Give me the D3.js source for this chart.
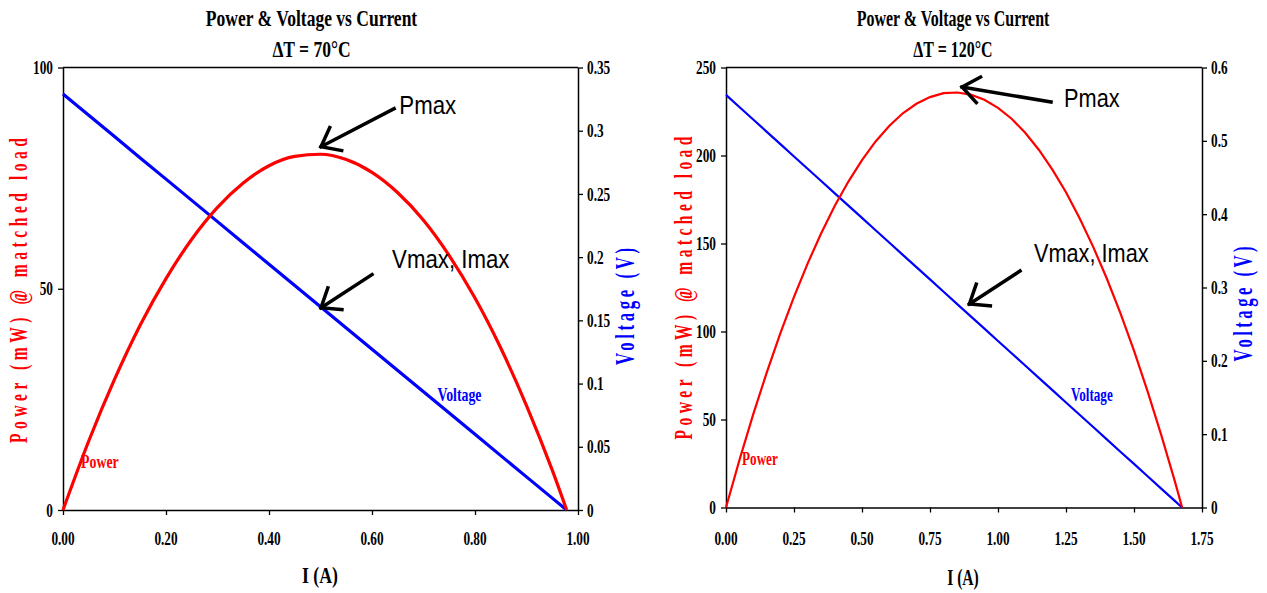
<!DOCTYPE html>
<html><head><meta charset="utf-8">
<script src="https://cdn.jsdelivr.net/npm/d3@7"></script>
<style>body{margin:0;background:#fff;} svg{display:block}</style>
</head><body>
<svg id="c" width="1267" height="593"></svg>
<script>
// ---------- Chart A : ΔT = 70°C ----------
const currentA = [0, 0.05, 0.10, 0.15, 0.20, 0.25, 0.30, 0.35, 0.40, 0.45, 0.50, 0.55, 0.60, 0.65, 0.70, 0.75, 0.80, 0.85, 0.90, 0.95, 0.978];
const powerA   = [0, 15.6, 29.5, 41.8, 52.3, 61.2, 68.4, 73.9, 77.8, 79.9, 80.4, 79.2, 76.3, 71.7, 65.5, 57.5, 47.9, 36.6, 23.6, 9.0, 0];
const voltageA = [0.3290, 0.3122, 0.2954, 0.2785, 0.2617, 0.2449, 0.2281, 0.2112, 0.1944, 0.1776, 0.1608, 0.1440, 0.1271, 0.1103, 0.0935, 0.0767, 0.0599, 0.0430, 0.0262, 0.0094, 0];
const xTicksA = [0, 0.2, 0.4, 0.6, 0.8, 1.0];
const xLabelsA = ["0.00", "0.20", "0.40", "0.60", "0.80", "1.00"];
const pTicksA = [0, 50, 100];
const pLabelsA = ["0", "50", "100"];
const vTicksA = [0, 0.05, 0.1, 0.15, 0.2, 0.25, 0.3, 0.35];
const vLabelsA = ["0", "0.05", "0.1", "0.15", "0.2", "0.25", "0.3", "0.35"];

// ---------- Chart B : ΔT = 120°C ----------
const currentB = [0, 0.05, 0.10, 0.15, 0.20, 0.25, 0.30, 0.35, 0.40, 0.45, 0.50, 0.55, 0.60, 0.65, 0.70, 0.75, 0.80, 0.85, 0.90, 0.95, 1.00, 1.05, 1.10, 1.15, 1.20, 1.25, 1.30, 1.35, 1.40, 1.45, 1.50, 1.55, 1.60, 1.65, 1.677];
const powerB   = [0, 27.3, 52.9, 76.8, 99.1, 119.7, 138.6, 155.8, 171.4, 185.2, 197.4, 208.0, 216.8, 224.0, 229.4, 233.2, 235.4, 235.8, 234.6, 231.7, 227.1, 220.9, 212.9, 203.3, 192.0, 179.1, 164.4, 148.1, 130.1, 110.4, 89.1, 66.0, 41.3, 15.0, 0];
const voltageB = [0.5626, 0.5458, 0.5291, 0.5123, 0.4955, 0.4787, 0.4620, 0.4452, 0.4284, 0.4116, 0.3949, 0.3781, 0.3613, 0.3445, 0.3278, 0.3110, 0.2942, 0.2774, 0.2607, 0.2439, 0.2271, 0.2103, 0.1936, 0.1768, 0.1600, 0.1432, 0.1265, 0.1097, 0.0929, 0.0761, 0.0594, 0.0426, 0.0258, 0.0090, 0];
const xTicksB = [0, 0.25, 0.5, 0.75, 1.0, 1.25, 1.5, 1.75];
const xLabelsB = ["0.00", "0.25", "0.50", "0.75", "1.00", "1.25", "1.50", "1.75"];
const pTicksB = [0, 50, 100, 150, 200, 250];
const pLabelsB = ["0", "50", "100", "150", "200", "250"];
const vTicksB = [0, 0.1, 0.2, 0.3, 0.4, 0.5, 0.6];
const vLabelsB = ["0", "0.1", "0.2", "0.3", "0.4", "0.5", "0.6"];

const titleLine1 = "Power & Voltage vs Current";
const titleA = "ΔT = 70°C";
const titleB = "ΔT = 120°C";

const SERIF = "'Liberation Serif','Times New Roman',serif";
const SANS = "'Liberation Sans',Arial,sans-serif";
const svg = d3.select("#c");

function ctext(g, x, y, str, o) {
  const t = g.append("text")
    .attr("transform", `translate(${x},${y}) rotate(${o.rot || 0}) scale(${o.sx || 1},1)`)
    .attr("text-anchor", o.anchor || "middle")
    .attr("font-family", o.family || SERIF)
    .attr("font-weight", o.weight || "bold")
    .attr("font-size", o.size)
    .attr("fill", o.fill || "#000")
    .text(str);
  if (o.len) t.attr("textLength", o.len / (o.sx || 1)).attr("lengthAdjust", "spacing");
  if (o.dy) t.attr("dy", o.dy);
  return t;
}

function arrow(g, x1, y1, x2, y2, w) {
  g.append("line").attr("x1", x1).attr("y1", y1).attr("x2", x2).attr("y2", y2)
    .attr("stroke", "#000").attr("stroke-width", w).attr("stroke-linecap", "square");
  const a = Math.atan2(y1 - y2, x1 - x2), L = 21, h = 38 * Math.PI / 180;
  const p = [a - h, a + h].map(b => [x2 + L * Math.cos(b), y2 + L * Math.sin(b)]);
  g.append("path").attr("d", `M${p[0][0]},${p[0][1]}L${x2},${y2}L${p[1][0]},${p[1][1]}`)
    .attr("fill", "none").attr("stroke", "#000").attr("stroke-width", w)
    .attr("stroke-linejoin", "miter").attr("stroke-linecap", "square");
}

function drawChart(c) {
  const g = svg.append("g");
  const x = d3.scaleLinear().domain(c.xDom).range([c.l, c.r]);
  const yP = d3.scaleLinear().domain(c.pDom).range([c.b, c.t]);
  const yV = d3.scaleLinear().domain(c.vDom).range([c.b, c.t]);

  const ax = (sel) => { sel.selectAll("text").remove(); sel.select(".domain").attr("stroke", "#000").attr("stroke-width", 1.5); sel.selectAll(".tick line").attr("stroke", "#000").attr("stroke-width", 1.3); };
  g.append("g").attr("transform", `translate(0,${c.b})`).call(d3.axisBottom(x).tickValues(c.xTicks).tickSize(5).tickSizeOuter(0)).call(ax);
  g.append("g").attr("transform", `translate(${c.l},0)`).call(d3.axisLeft(yP).tickValues(c.pTicks).tickSize(5).tickSizeOuter(0)).call(ax);
  g.append("g").attr("transform", `translate(${c.r},0)`).call(d3.axisRight(yV).tickValues(c.vTicks).tickSize(5).tickSizeOuter(0)).call(ax);
  g.append("line").attr("x1", c.l).attr("x2", c.r).attr("y1", c.t).attr("y2", c.t).attr("stroke", "#000").attr("stroke-width", 1.5);

  c.xTicks.forEach((v, i) => ctext(g, x(v), c.xLabY, c.xLabels[i], { size: 19, sx: 0.70 }));
  c.pTicks.forEach((v, i) => ctext(g, c.l - 10, yP(v), c.pLabels[i], { size: 19, sx: 0.70, anchor: "end", dy: "0.35em" }));
  c.vTicks.forEach((v, i) => ctext(g, c.r + 9, yV(v), c.vLabels[i], { size: 19, sx: 0.70, anchor: "start", dy: "0.35em" }));

  ctext(g, c.titleX, 26, titleLine1, { size: 24, sx: c.tsx });
  ctext(g, c.titleX, 57, c.title2, { size: 24, sx: c.tsx });
  ctext(g, c.xTitleX, c.xTitleY, "I (A)", { size: 24, sx: c.xsx });
  ctext(g, c.pTitleX, c.pTitleY, "Power (mW) @ matched load", { size: 26, sx: 0.6, rot: -90, fill: "#ff0000", len: c.pTitleLen });
  ctext(g, c.vTitleX, c.vTitleY, "Voltage (V)", { size: 27, sx: 0.62, rot: -90, fill: "#0000ff", len: c.vTitleLen });

  const pts = c.current.map((d, i) => ({ i: d, p: c.power[i], v: c.voltage[i] }));
  g.append("path").datum(pts).attr("fill", "none").attr("stroke", "#0000ff").attr("stroke-width", c.lw)
    .attr("d", d3.line().x(d => x(d.i)).y(d => yV(d.v)));
  g.append("path").datum(pts).attr("fill", "none").attr("stroke", "#ff0000").attr("stroke-width", c.lw)
    .attr("d", d3.line().curve(c.curve).x(d => x(d.i)).y(d => yP(d.p)));

  ctext(g, x(c.powLab[0]), yP(c.powLab[1]), "Power", { size: 18, sx: c.lsx, anchor: "start", fill: "#ff0000" });
  ctext(g, x(c.volLab[0]), yP(c.volLab[1]), "Voltage", { size: 18, sx: c.lsx, anchor: "start", fill: "#0000ff" });

  c.notes.forEach(n => {
    ctext(g, x(n.tx[0]), yP(n.tx[1]), n.text, { size: 25, sx: c.asx, anchor: "start", family: SANS, weight: "normal" });
    arrow(g, x(n.from[0]), yP(n.from[1]), x(n.to[0]), yP(n.to[1]), 3.5);
  });
}

drawChart({
  l: 63, r: 578, t: 67.5, b: 510,
  xDom: [0, 1], pDom: [0, 100], vDom: [0, 0.35],
  xTicks: xTicksA, xLabels: xLabelsA, pTicks: pTicksA, pLabels: pLabelsA, vTicks: vTicksA, vLabels: vLabelsA,
  current: currentA, power: powerA, voltage: voltageA,
  xLabY: 545, titleX: 311.5, tsx: 0.73, title2: titleA,
  xTitleX: 320, xTitleY: 583, xsx: 0.74,
  pTitleX: 27, pTitleY: 290.5, pTitleLen: 305,
  vTitleX: 634, vTitleY: 306.5, vTitleLen: 117,
  lw: 3.2, curve: d3.curveMonotoneX, lsx: 0.77, asx: 0.89,
  powLab: [0.035, 9.5], volLab: [0.727, 24.7],
  notes: [
    { text: "Pmax", tx: [0.653, 89.4], from: [0.643, 90.7], to: [0.501, 82.1] },
    { text: "Vmax, Imax", tx: [0.639, 54.6], from: [0.600, 53.2], to: [0.501, 45.7] }
  ]
});

drawChart({
  l: 726, r: 1202, t: 67.5, b: 507.5,
  xDom: [0, 1.75], pDom: [0, 250], vDom: [0, 0.6],
  xTicks: xTicksB, xLabels: xLabelsB, pTicks: pTicksB, pLabels: pLabelsB, vTicks: vTicksB, vLabels: vLabelsB,
  current: currentB, power: powerB, voltage: voltageB,
  xLabY: 545, titleX: 953, tsx: 0.665, title2: titleB,
  xTitleX: 963, xTitleY: 585, xsx: 0.65,
  pTitleX: 692, pTitleY: 288, pTitleLen: 303,
  vTitleX: 1252, vTitleY: 304, vTitleLen: 115,
  lw: 2.2, curve: d3.curveLinear, lsx: 0.73, asx: 0.87,
  powLab: [0.059, 24.1], volLab: [1.268, 60.5],
  notes: [
    { text: "Pmax", tx: [1.243, 227.4], from: [1.195, 230.4], to: [0.868, 238.9] },
    { text: "Vmax, Imax", tx: [1.132, 139.7], from: [1.081, 134.4], to: [0.895, 115.6] }
  ]
});
</script>
</body></html>
